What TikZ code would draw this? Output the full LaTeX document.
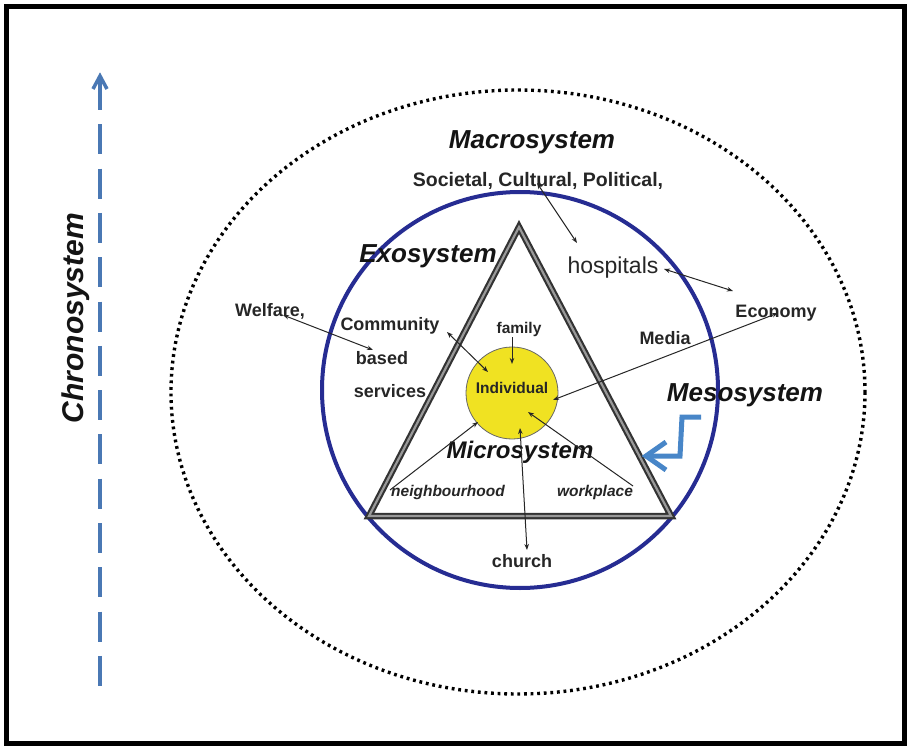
\documentclass[tikz,border=0pt]{standalone}
\usepackage{fontspec}
\setmainfont{Liberation Sans}
\usetikzlibrary{arrows.meta}
\definecolor{ringblue}{RGB}{38,44,146}
\definecolor{timeblue}{RGB}{74,120,180}
\definecolor{mesoblue}{RGB}{72,134,200}
\definecolor{selfyellow}{RGB}{240,226,34}
\definecolor{ink}{RGB}{38,38,38}

\begin{document}
\begin{tikzpicture}[x=1pt,y=-1pt,
  heading/.style={font=\fontsize{26}{30}\selectfont\bfseries\itshape, text=black!92, inner sep=0pt},
  label/.style={font=\fontsize{18}{21}\selectfont\bfseries, text=ink, inner sep=0pt},
  smalllabel/.style={font=\fontsize{15.5}{18}\selectfont\bfseries, text=ink, inner sep=0pt},
  slanted/.style={font=\fontsize{15.5}{18}\selectfont\bfseries\itshape, text=ink, inner sep=0pt},
  link/.style={draw=ink, line width=1pt, >={Stealth[length=6pt,width=4.5pt]}},
  timeline/.style={timeblue, line width=3.5pt},
  mesoarrow/.style={mesoblue, line width=5pt, line join=miter},
  ring/.style={ringblue, line width=4pt},
]
% page and frame
\useasboundingbox (0,0) rectangle (908,746);
\fill[white] (0,0) rectangle (908,746);
\draw[line width=5pt] (6.5,6.5) rectangle (904.5,743.5);

% chronosystem time axis
\node[heading, rotate=90, font=\fontsize{30}{34}\selectfont\bfseries\itshape] (chrono) at (76,318) {Chronosystem};
\coordinate (tTop) at (100,76);
\coordinate (tStart) at (100,80);
\coordinate (tBot) at (100,686);
\draw[timeline, dash pattern=on 30pt off 14.3pt] (tStart) -- (tBot);
\draw[timeline, line join=miter] (93,89) -- (tTop) -- (107,89);

% macrosystem boundary
\draw[line width=3.4pt, dash pattern=on 2.8pt off 3.8pt] (518,392) ellipse [x radius=347, y radius=302];

% exosystem ring
\draw[ring] (520,390) circle [radius=198];

% microsystem triangle (double edged)
\coordinate (apex) at (519,227);
\coordinate (bl) at (369,516);
\coordinate (br) at (671,516);
\draw[black!80, line width=6.5pt, line join=miter] (apex) -- (bl) -- (br) -- cycle;
\draw[black!40, line width=2.2pt, line join=miter] (apex) -- (bl) -- (br) -- cycle;

% the individual
\node[circle, draw=black!60, line width=0.8pt, fill=selfyellow, minimum size=92pt, inner sep=0pt] (ind) at (512,393) {};
\node[smalllabel] (indtext) at (512,388) {Individual};

% labels
\node[heading] (macro) at (532,142) {Macrosystem};
\node[label, font=\fontsize{19.5}{22}\selectfont\bfseries] (soc) at (538,181) {Societal, Cultural, Political,};
\node[heading] (exo) at (428,256) {Exosystem};
\node[font=\fontsize{23}{26}\selectfont, text=ink, inner sep=0pt] (hosp) at (613,268) {hospitals};
\node[label] (econ) at (776,313) {Economy};
\node[label] (welf) at (270,311) {Welfare,};
\node[label] (comm) at (390,326) {Community};
\node[label] (based) at (382,358) {based};
\node[label] (serv) at (390,391) {services};
\node[label] (media) at (665,338) {Media};
\node[smalllabel] (fam) at (519,329) {family};
\node[heading, font=\fontsize{24}{28}\selectfont\bfseries\itshape] (micro) at (520,452) {Microsystem};
\node[slanted] (neigh) at (448,492) {neighbourhood};
\node[slanted] (work) at (595,492) {workplace};
\node[label] (church) at (522,561) {church};
\node[heading] (meso) at (745,395) {Mesosystem};

% connector end points
\coordinate (socP) at (537,183);
\coordinate (hospTop) at (577,243);
\coordinate (hospR) at (664,269);
\coordinate (econL) at (733,291);
\coordinate (econP) at (778,313);
\coordinate (indR) at (553,400);
\coordinate (welfP) at (283,315);
\coordinate (basedP) at (373,350);
\coordinate (commP) at (447,332);
\coordinate (indUL) at (488,372);
\coordinate (famP) at (512,337);
\coordinate (indT) at (512,364);
\coordinate (neighP) at (390,490);
\coordinate (indLL) at (478,422);
\coordinate (workP) at (633,486);
\coordinate (indLR) at (528,412);
\coordinate (indB) at (520,428);
\coordinate (churchP) at (527,550);

% connectors
\draw[link, <->] (socP) -- (hospTop);
\draw[link, <->] (hospR) -- (econL);
\draw[link, <->] (econP) -- (indR);
\draw[link, <->] (welfP) -- (basedP);
\draw[link, <->] (commP) -- (indUL);
\draw[link, ->] (famP) -- (indT);
\draw[link, ->] (neighP) -- (indLL);
\draw[link, ->] (workP) -- (indLR);
\draw[link, <->] (indB) -- (churchP);

% mesosystem stepped arrow
\coordinate (m1) at (701,417);
\coordinate (m2) at (682,417);
\coordinate (m3) at (680,456);
\coordinate (mTip) at (646,456);
\draw[mesoarrow] (m1) -- (m2) -- (m3) -- (mTip);
\draw[mesoarrow] (666,442) -- (mTip) -- (666,470);
\end{tikzpicture}
\end{document}
